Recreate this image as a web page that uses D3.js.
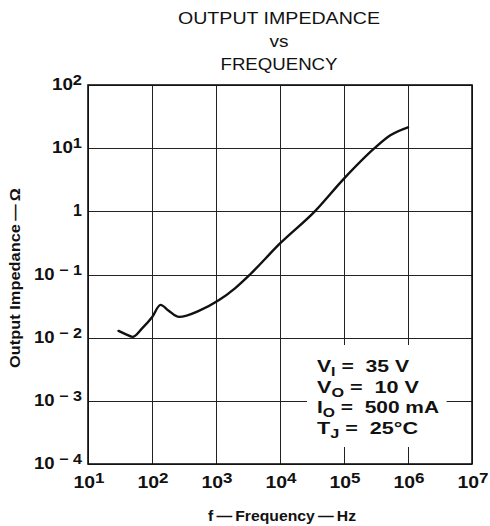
<!DOCTYPE html>
<html lang="en">
<head>
<meta charset="UTF-8">
<title>Output Impedance vs Frequency</title>
<script src="https://d3js.org/d3.v7.min.js"></script>
<style>
  body { margin: 0; background: #fff; }
  svg { display: block; }
  .grid line { stroke: #222; stroke-width: 1px; shape-rendering: crispEdges; }
  .grid path { display: none; }
  .frame { fill: none; stroke: #111; stroke-width: 1.6px; }
  .curve { fill: none; stroke: #111; stroke-width: 2.4px; stroke-linejoin: round; stroke-linecap: round; }
  text { font-family: "Liberation Sans", Arial, sans-serif; fill: #111; }
  .tick-label { font-weight: bold; font-size: 16px; }
  .title { font-size: 16px; }
  .axis-title { font-weight: bold; font-size: 15px; }
  .cond { font-weight: bold; font-size: 16px; white-space: pre; }
</style>
</head>
<body>
<div id="chart"></div>
<script>
// values
const freqHz = [30, 40, 50, 70, 100, 136, 180, 265, 560, 1100, 2000, 3400, 10000, 35000, 100000, 300000, 530000, 1000000];
const impedanceOhm = [0.0128, 0.0112, 0.0103, 0.014, 0.021, 0.033, 0.027, 0.0213, 0.027, 0.039, 0.061, 0.1, 0.31, 1.0, 3.3, 10, 16, 21.4];

const xTickExps = [1, 2, 3, 4, 5, 6, 7];
const yTickExps = [2, 1, 0, -1, -2, -3, -4];

const titleLines = ["OUTPUT IMPEDANCE", "vs", "FREQUENCY"];
const xTitle = "f\u2009\u2014\u2009Frequency\u2009\u2014\u2009Hz";
const yTitle = "Output Impedance\u2009\u2014\u2009\u03A9";

const condSymbols = ["V", "V", "I", "T"];
const condSubs = ["I", "O", "O", "J"];
const condValues = [" =  35 V", " =  10 V", " =  500 mA", " =  25\u00B0C"];

const W = 490, H = 526;
const plot = { left: 88, right: 472, top: 85, bottom: 464 };

const x = d3.scaleLog().domain([1e1, 1e7]).range([plot.left, plot.right]);
const y = d3.scaleLog().domain([1e-4, 1e2]).range([plot.bottom, plot.top]);

const svg = d3.select("#chart").append("svg")
    .attr("width", W)
    .attr("height", H);

// the printed type is a wide grotesque, so stretch each string to its measured width
const stretch = (sel, len) => sel.attr("textLength", len).attr("lengthAdjust", "spacingAndGlyphs");

// grid
svg.append("g")
    .attr("class", "grid")
    .attr("transform", `translate(0,${plot.bottom})`)
    .call(d3.axisBottom(x).tickValues(xTickExps.map(e => Math.pow(10, e)))
        .tickSize(-(plot.bottom - plot.top)).tickFormat(""));

svg.append("g")
    .attr("class", "grid")
    .attr("transform", `translate(${plot.left},0)`)
    .call(d3.axisLeft(y).tickValues(yTickExps.map(e => Math.pow(10, e)))
        .tickSize(-(plot.right - plot.left)).tickFormat(""));

// curve
const line = d3.line()
    .x(d => x(d[0]))
    .y(d => y(d[1]))
    .curve(d3.curveMonotoneX);

svg.append("path")
    .datum(freqHz.map((f, i) => [f, impedanceOhm[i]]))
    .attr("class", "curve")
    .attr("d", line);

// test conditions; the white patch breaks the grid behind them
const condWidths = [92, 102, 122, 101];
const cond = svg.append("g");
const condBg = cond.append("rect").attr("fill", "#fff");
condSymbols.forEach((s, i) => {
    const t = cond.append("text")
        .attr("class", "cond")
        .attr("x", 317)
        .attr("y", 372 + i * 20.5);
    t.append("tspan").text(s);
    t.append("tspan").attr("font-size", "12px").attr("dy", 4).text(condSubs[i]);
    t.append("tspan").attr("dy", -4).text(condValues[i]);
    stretch(t, condWidths[i]);
});
const bb = cond.node().getBBox();
condBg.attr("x", bb.x - 10).attr("y", bb.y - 13)
    .attr("width", bb.width + 17).attr("height", 447 - (bb.y - 13));

svg.append("rect")
    .attr("class", "frame")
    .attr("x", plot.left).attr("y", plot.top)
    .attr("width", plot.right - plot.left)
    .attr("height", plot.bottom - plot.top);

// tick labels
yTickExps.forEach(e => {
    const t = svg.append("text")
        .attr("class", "tick-label")
        .attr("text-anchor", "end")
        .attr("x", 82)
        .attr("y", y(Math.pow(10, e)) + 5);
    if (e === 0) { t.text("1"); return; }
    t.append("tspan").text("10");
    t.append("tspan").attr("font-size", "14px").attr("dy", -5)
        .text(e < 0 ? " \u2212 " + (-e) : String(e));
    stretch(t, e < 0 ? 48 : 30);
});

xTickExps.forEach(e => {
    const t = svg.append("text")
        .attr("class", "tick-label")
        .attr("text-anchor", "middle")
        .attr("x", x(Math.pow(10, e)) + 1)
        .attr("y", 488);
    t.append("tspan").text("10");
    t.append("tspan").attr("font-size", "14px").attr("dy", -5).text(String(e));
    stretch(t, 31);
});

// titles
const titleWidths = [202, 19, 117];
titleLines.forEach((s, i) => {
    const t = svg.append("text")
        .attr("class", "title")
        .attr("text-anchor", "middle")
        .attr("x", 279)
        .attr("y", [24, 47, 70][i])
        .text(s);
    stretch(t, titleWidths[i]);
});

stretch(svg.append("text")
    .attr("class", "axis-title")
    .attr("text-anchor", "middle")
    .attr("x", 282)
    .attr("y", 521)
    .text(xTitle), 148);

stretch(svg.append("text")
    .attr("class", "axis-title")
    .attr("text-anchor", "middle")
    .attr("transform", "translate(20,278) rotate(-90)")
    .text(yTitle), 180);
</script>
</body>
</html>
